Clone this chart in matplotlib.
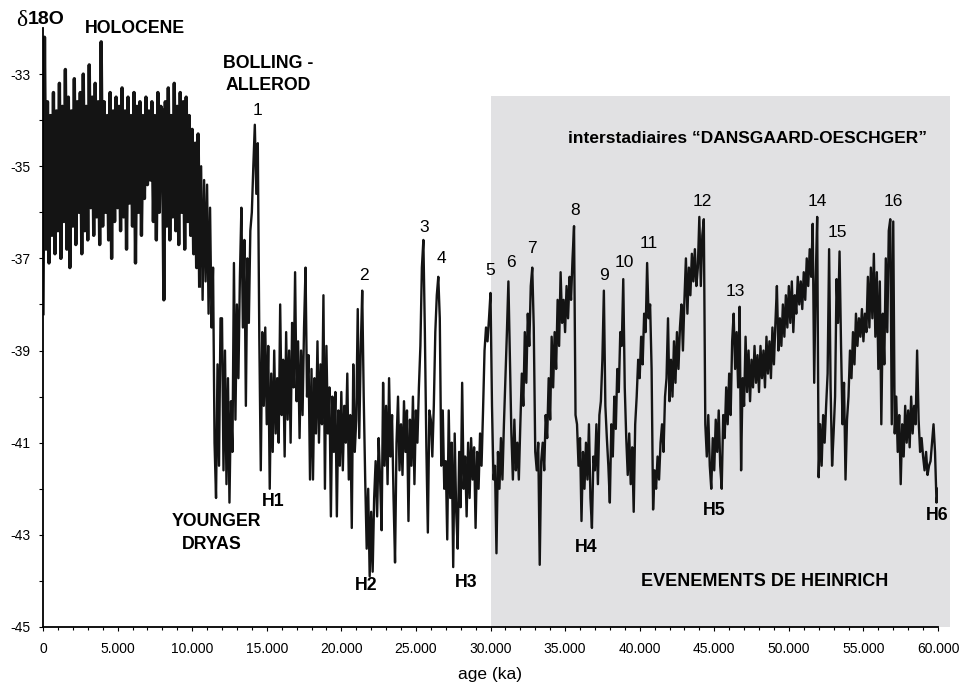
import matplotlib
matplotlib.use('Agg')
import matplotlib.pyplot as plt
import numpy as np
from matplotlib.ticker import FixedLocator, FuncFormatter
from matplotlib.patches import Rectangle

# age grid (years), one value every 100 years
age = np.arange(0, 60001, 100)

# d18O values, one row per 1000 years
d18o = [
    -38.2, -32.2, -36.8, -33.6, -37.1, -33.9, -36.5, -33.4, -36.9, -33.8,
    -36.4, -33.2, -37.0, -33.7, -36.2, -32.9, -36.8, -33.5, -37.2, -33.8,
    -36.3, -33.1, -36.7, -33.6, -36.0, -33.4, -36.9, -33.0, -36.4, -33.7,
    -36.6, -32.8, -35.9, -33.5, -36.5, -33.2, -36.1, -33.6, -36.7, -32.3,
    -36.3, -33.6, -36.0, -33.9, -36.6, -33.4, -37.0, -33.8, -36.2, -33.5,
    -35.9, -33.7, -36.4, -33.3, -36.1, -33.8, -36.8, -33.5, -35.8, -33.9,
    -36.3, -33.4, -37.1, -33.7, -36.0, -33.6, -36.5, -33.9, -35.7, -33.5,
    -35.4, -33.8, -35.3, -33.6, -36.2, -33.9, -36.6, -33.4, -36.0, -33.7,
    -33.8, -37.9, -33.6, -36.3, -33.3, -36.6, -33.9, -36.1, -33.2, -36.4,
    -33.7, -36.7, -33.4, -36.0, -33.6, -36.8, -33.5, -36.2, -33.9, -36.5,
    -34.2, -36.9, -34.5, -37.2, -34.3, -37.6, -35.0, -37.9, -35.3, -37.5,
    -35.4, -38.2, -35.9, -38.5, -37.2, -41.0, -42.2, -39.3, -41.5, -38.3,
    -38.3, -41.6, -39.0, -41.9, -39.6, -42.3, -40.1, -41.2, -37.1, -40.5,
    -38.0, -39.6, -37.4, -35.9, -38.5, -36.6, -40.2, -37.0, -38.4, -36.4,
    -36.0, -35.0, -34.1, -35.6, -34.5, -38.7, -41.6, -38.6, -40.2, -38.5,
    -40.6, -38.9, -42.0, -39.5, -41.2, -39.0, -40.8, -39.6, -41.0, -38.0,
    -40.4, -39.2, -41.3, -38.6, -40.5, -39.0, -41.0, -38.4, -39.8, -37.3,
    -40.1, -38.8, -40.9, -39.0, -40.4, -38.5, -37.2, -40.0, -39.1, -41.8,
    -39.4, -41.8, -39.6, -40.8, -38.8, -41.0, -39.3, -40.6, -37.8, -42.0,
    -38.9, -40.8, -39.8, -42.6, -40.0, -41.2, -39.9, -42.6, -40.3, -41.5,
    -39.9, -41.6, -40.2, -41.0, -39.5, -41.8, -40.4, -42.85, -39.3, -41.2,
    -40.5, -38.1, -40.9, -39.0, -37.7, -40.0, -41.8, -43.3, -42.0, -43.9,
    -42.5, -43.8, -42.2, -41.4, -42.6, -40.9, -41.8, -42.9, -39.7, -41.5,
    -40.2, -41.9, -39.6, -41.3, -40.4, -42.2, -43.6, -41.0, -40.0, -41.6,
    -40.6, -41.7, -40.1, -41.2, -40.3, -42.7, -40.5, -41.5, -40.0, -41.9,
    -40.3, -41.0, -39.8, -38.9, -37.2, -36.6, -38.6, -41.1, -42.95, -40.3,
    -40.5, -41.3, -40.2, -38.6, -37.8, -37.4, -38.3, -41.5, -40.3, -42.0,
    -41.4, -43.1, -40.3, -42.2, -41.0, -43.7, -40.8, -42.5, -43.3, -41.2,
    -42.4, -39.7, -42.0, -41.3, -42.6, -41.0, -42.2, -40.9, -41.8, -41.1,
    -42.85, -41.2, -42.0, -40.8, -41.5, -40.3, -39.0, -38.5, -38.8, -38.3,
    -37.75, -40.2, -41.8, -41.5, -43.4, -41.2, -42.0, -40.9, -41.8, -40.6,
    -39.6, -38.6, -37.5, -39.2, -40.8, -41.8, -40.5, -41.6, -41.0, -41.8,
    -40.6, -39.5, -40.2, -38.6, -39.7, -38.2, -38.9, -37.6, -37.2, -38.5,
    -41.2, -41.6, -41.0, -43.65, -41.4, -41.0, -41.6, -40.4, -40.9, -39.6,
    -40.5, -38.7, -39.8, -38.6, -39.4, -37.9, -38.9, -37.3, -38.4, -37.9,
    -38.6, -37.6, -38.3, -37.4, -37.9, -37.0, -36.3, -40.4, -40.6, -41.5,
    -40.9, -42.7, -41.2, -42.0, -41.0, -41.8, -40.6, -42.2, -42.85, -41.3,
    -41.6, -40.6, -41.9, -40.4, -40.1, -39.2, -37.7, -40.2, -40.9, -41.5,
    -42.3, -40.6, -41.3, -40.0, -40.7, -39.4, -39.9, -38.6, -38.9, -37.45,
    -39.8, -40.9, -41.7, -40.8, -41.9, -41.1, -42.5, -40.6, -40.0, -39.2,
    -39.6, -38.7, -39.3, -38.2, -38.6, -37.1, -38.3, -38.0, -39.4, -42.45,
    -41.6, -42.0, -41.3, -41.8, -41.0, -40.6, -41.2, -40.0, -39.6, -38.3,
    -40.1, -39.2, -40.0, -38.8, -39.7, -38.6, -39.4, -38.5, -38.0, -39.0,
    -37.9, -37.0, -38.2, -37.2, -37.8, -36.9, -37.5, -36.8, -37.6, -37.2,
    -36.1, -37.6, -36.5, -36.15, -40.6, -41.3, -40.4, -41.5, -42.0, -40.9,
    -41.6, -40.5, -41.2, -40.3, -41.5, -42.0, -40.4, -40.9, -39.8, -40.6,
    -39.5, -40.4, -38.8, -38.2, -39.4, -38.6, -39.8, -38.05, -41.6, -39.6,
    -40.2, -38.7, -39.9, -39.0, -40.1, -39.2, -39.8, -38.9, -39.7, -39.1,
    -39.9, -38.9, -39.6, -39.0, -39.8, -38.7, -39.5, -38.8, -39.6, -38.5,
    -39.3, -38.4, -37.6, -39.0, -38.3, -38.9, -38.0, -38.7, -37.8, -38.5,
    -37.6, -38.4, -37.5, -38.6, -37.8, -38.2, -37.4, -38.0, -37.5, -38.1,
    -37.3, -37.9, -37.0, -37.6, -36.8, -37.4, -36.25, -39.7, -37.5, -36.1,
    -41.75, -40.6, -41.5, -40.4, -41.0, -40.2, -39.5, -36.8, -39.8, -41.5,
    -40.8, -40.0, -37.45, -38.4, -36.85, -38.9, -40.6, -39.7, -41.8, -40.5,
    -40.0, -39.0, -39.6, -38.6, -39.3, -38.2, -38.9, -38.3, -38.7, -38.1,
    -38.8, -38.2, -38.6, -37.4, -38.5, -37.2, -38.3, -36.9, -38.7, -37.3,
    -39.4, -37.5, -40.6, -38.2, -39.3, -37.0, -38.6, -36.4, -36.15, -40.6,
    -36.2, -40.8, -40.0, -41.2, -40.4, -41.9, -40.6, -41.3, -40.2, -41.0,
    -40.3, -41.1, -40.0, -40.8, -40.2, -40.6, -39.0, -40.5, -41.2, -40.9,
    -41.3, -41.6, -41.2, -41.7, -41.5, -41.4, -41.0, -40.6, -41.2, -42.3,
    -42.0,
]

# annotations: text, age, value
bold_labels = ['HOLOCENE', 'BOLLING -', 'ALLEROD', 'YOUNGER', 'DRYAS',
               'H1', 'H2', 'H3', 'H4', 'H5', 'H6']
bold_ages = [6170, 15080, 15080, 11600, 11330,
             15420, 21650, 28360, 36400, 44980, 59930]
bold_vals = [-32.02, -32.76, -33.24, -42.72, -43.22,
             -42.28, -44.11, -44.04, -43.28, -42.48, -42.59]

do_labels = ['1', '2', '3', '4', '5', '6', '7', '8',
             '9', '10', '11', '12', '13', '14', '15', '16']
do_ages = [14410, 21520, 25540, 26680, 29970, 31370, 32780, 35660,
           37610, 38950, 40630, 44180, 46390, 51890, 53230, 56980]
do_vals = [-33.80, -37.37, -36.33, -37.00, -37.26, -37.09, -36.78, -35.96,
           -37.37, -37.09, -36.67, -35.76, -37.72, -35.76, -36.43, -35.76]

# grey band for Dansgaard-Oeschger / Heinrich period
band_start, band_end, band_top = 30000, 60800, -33.48

plt.rcParams['font.family'] = ['Liberation Sans', 'DejaVu Sans']

fig = plt.figure(figsize=(9.61, 6.87), dpi=100)
ax = fig.add_axes([43/961, 60/687, 895/961, 599/687])

ax.add_patch(Rectangle((band_start, -45), band_end - band_start, band_top + 45,
                       facecolor='#e1e1e3', edgecolor='none', clip_on=False, zorder=0))
# the record is densest in the Holocene: draw that part heavier
split = 106
ax.plot(age[:split], d18o[:split], color='#141414', lw=2.4, zorder=2)
ax.plot(age[split - 1:], d18o[split - 1:], color='#141414', lw=1.7, zorder=2)

ax.set_xlim(0, 60000)
ax.set_ylim(-45, -32)
for s in ['top', 'right']:
    ax.spines[s].set_visible(False)
for s in ['left', 'bottom']:
    ax.spines[s].set_linewidth(1.3)
    ax.spines[s].set_zorder(3)

ax.xaxis.set_major_locator(FixedLocator(np.arange(0, 60001, 5000)))
ax.xaxis.set_minor_locator(FixedLocator(np.arange(0, 60001, 1000)))
ax.xaxis.set_major_formatter(FuncFormatter(lambda v, p: '{:,}'.format(int(v)).replace(',', '.')))
ax.yaxis.set_major_locator(FixedLocator(np.arange(-45, -32, 2)))
ax.yaxis.set_minor_locator(FixedLocator(np.arange(-44, -33, 2)))
ax.yaxis.set_major_formatter(FuncFormatter(lambda v, p: '%d' % v))
ax.tick_params(axis='both', which='both', direction='out', width=0.8, labelsize=10)
ax.tick_params(axis='x', which='major', length=3, pad=8)
ax.tick_params(axis='x', which='minor', length=2)
ax.tick_params(axis='y', which='both', length=3, pad=6)

for t, a, v in zip(bold_labels, bold_ages, bold_vals):
    ax.text(a, v, t, ha='center', va='center', fontsize=12.8, fontweight='bold', zorder=4)
for t, a, v in zip(do_labels, do_ages, do_vals):
    ax.text(a, v, t, ha='center', va='center', fontsize=12.5, zorder=4)

ax.text(47200, -34.39, 'interstadiaires \u201cDANSGAARD-OESCHGER\u201d', ha='center', va='center',
        fontsize=12.5, fontweight='bold')
ax.text(48400, -44.02, 'EVENEMENTS DE HEINRICH', ha='center', va='center',
        fontsize=13, fontweight='bold')

fig.text(490/961, 1 - 675/687, 'age (ka)', ha='center', va='center', fontsize=12.5)
fig.text(22/961, 1 - 20/687, '\u03b4', ha='center', va='center', fontsize=17, family='Liberation Serif')
fig.text(28/961, 1 - 20/687, '18O', ha='left', va='center', fontsize=14, fontweight='bold')

fig.savefig('out.png', dpi=100)
